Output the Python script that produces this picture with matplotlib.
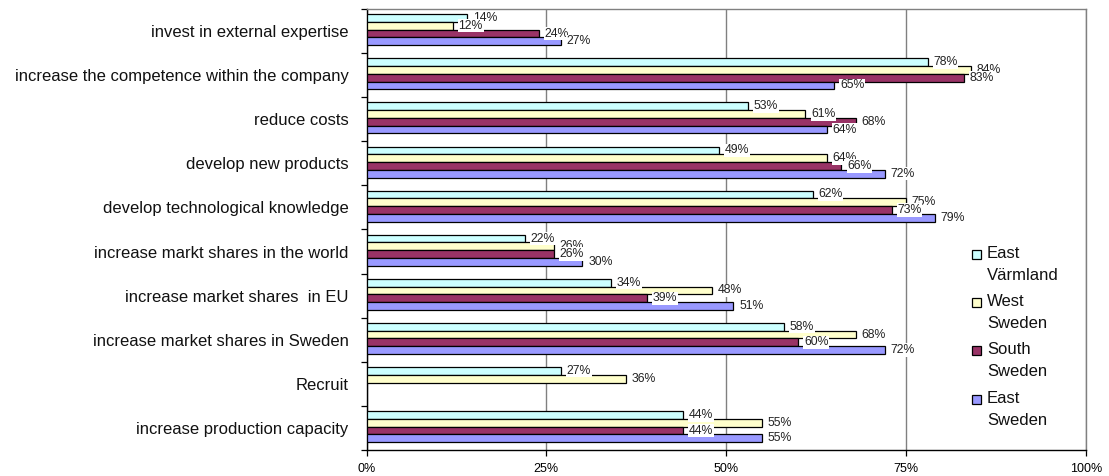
import matplotlib
matplotlib.use("Agg")
import matplotlib.pyplot as plt
from matplotlib.patches import Rectangle
import numpy as np

plt.rcParams['font.family'] = ['Liberation Sans', 'DejaVu Sans']

categories = [
    "invest in external expertise",
    "increase the competence within the company",
    "reduce costs",
    "develop new products",
    "develop technological knowledge",
    "increase markt shares in the world",
    "increase market shares  in EU",
    "increase market shares in Sweden",
    "Recruit",
    "increase production capacity",
]

series_names = ["East\nVärmland", "West\nSweden", "South\nSweden", "East\nSweden"]
series_colors = ["#CCFFFF", "#FFFFCC", "#993366", "#9999FF"]

east_varmland = [14, 78, 53, 49, 62, 22, 34, 58, 27, 44]
west_sweden = [12, 84, 61, 64, 75, 26, 48, 68, 36, 55]
south_sweden = [24, 83, 68, 66, 73, 26, 39, 60, None, 44]
east_sweden = [27, 65, 64, 72, 79, 30, 51, 72, None, 55]

x_ticks = [0, 25, 50, 75, 100]
x_tick_labels = ["0%", "25%", "50%", "75%", "100%"]

series_values = [east_varmland, west_sweden, south_sweden, east_sweden]

fig_w, fig_h = 1109, 476
fig = plt.figure(figsize=(fig_w / 100, fig_h / 100), dpi=100)
ax = fig.add_axes([366.5 / fig_w, 1 - 450 / fig_h,
                   (1086 - 366.5) / fig_w, (450 - 9) / fig_h])

n_cat = len(categories)
bar_h = 0.176
y_centers = np.arange(n_cat)


def bar_offset(j):
    return (j - 1.5) * bar_h - 0.03


# grouped horizontal bars, first series on top of each group
for j, (vals, color) in enumerate(zip(series_values, series_colors)):
    ys = [y + bar_offset(j) for y, v in zip(y_centers, vals) if v is not None]
    vs = [v for v in vals if v is not None]
    ax.barh(ys, vs, height=bar_h, color=color, edgecolor="black",
            linewidth=0.9, zorder=3)

# value labels to the right of each bar
for j, vals in enumerate(series_values):
    for y, v in zip(y_centers, vals):
        if v is None:
            continue
        ax.text(v + 0.8, y + bar_offset(j), f"{v}%", fontsize=8.8, va="center",
                ha="left", color="#222222", zorder=5 + j,
                bbox=dict(boxstyle="square,pad=0.05", fc="white", ec="none"))

ax.set_xlim(0, 100)
ax.set_ylim(n_cat - 0.5, -0.5)

ax.set_xticks(x_ticks)
ax.set_xticklabels(x_tick_labels, fontsize=9)
ax.tick_params(axis="x", direction="out", length=4, width=0.9, pad=5, colors="black")
ax.xaxis.grid(True, color="#808080", linewidth=1.0, zorder=0)

# category ticks sit between groups, labels at group centres
ax.set_yticks(np.arange(-0.5, n_cat, 1.0))
ax.set_yticklabels([])
ax.tick_params(axis="y", which="major", direction="out", length=4, width=0.9)
ax.set_yticks(y_centers, minor=True)
ax.set_yticklabels(categories, minor=True, fontsize=12, color="#111111")
ax.tick_params(axis="y", which="minor", length=0, pad=13)

for side in ("left", "bottom"):
    ax.spines[side].set_color("black")
    ax.spines[side].set_linewidth(1.0)
for side in ("top", "right"):
    ax.spines[side].set_color("#808080")
    ax.spines[side].set_linewidth(1.0)
ax.set_axisbelow(True)

# legend drawn inside the plot area, square key aligned with first text line
entry_centers = [254, 302, 350, 399]
for name, color, yc in zip(series_names, series_colors, entry_centers):
    fig.patches.append(Rectangle((972 / fig_w, 1 - (yc + 4.5) / fig_h),
                                 9 / fig_w, 9 / fig_h,
                                 transform=fig.transFigure, facecolor=color,
                                 edgecolor="black", linewidth=0.9))
    fig.text(987 / fig_w, 1 - (yc - 8) / fig_h, name, fontsize=12,
             va="top", ha="left", linespacing=1.56, color="#111111")

fig.savefig("out.png", dpi=100, facecolor="white")
